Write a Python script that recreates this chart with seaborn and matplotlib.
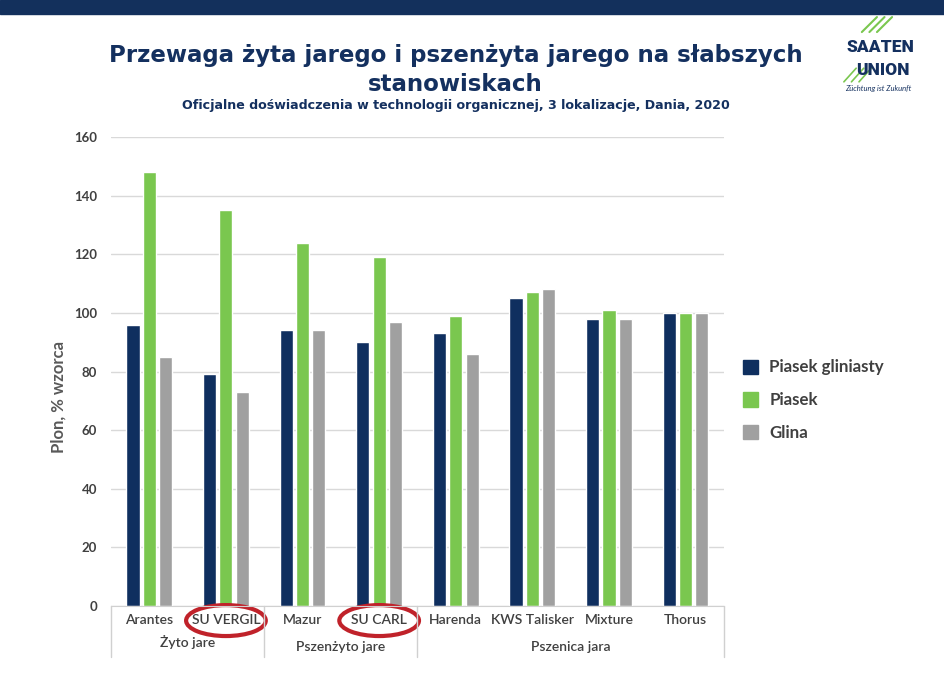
import numpy as np
import pandas as pd
import seaborn as sns
import matplotlib.pyplot as plt
from matplotlib.patches import Rectangle, Ellipse
from matplotlib.lines import Line2D

# dane
odmiany = ["Arantes", "SU VERGIL", "Mazur", "SU CARL", "Harenda", "KWS Talisker", "Mixture", "Thorus"]
grupy = ["Żyto jare", "Pszenżyto jare", "Pszenica jara"]
grupy_zakres = [(0, 1), (2, 3), (4, 7)]
piasek_gliniasty = [96, 79, 94, 90, 93, 105, 98, 100]
piasek = [148, 135, 124, 119, 99, 107, 101, 100]
glina = [85, 73, 94, 97, 86, 108, 98, 100]
gleby = ["Piasek gliniasty", "Piasek", "Glina"]
kolory = ["#0f2f5f", "#7ac74f", "#a0a0a0"]

NAVY = "#14305f"
TXT = "#404040"
TYTUL_FONT = ["DejaVu Sans"]

sns.set_style("white")
plt.rcParams['font.family'] = ['Lato', 'DejaVu Sans']

df = pd.DataFrame({
    "odmiana": odmiany * 3,
    "gleba": [g for g in gleby for _ in odmiany],
    "plon": piasek_gliniasty + piasek + glina,
})

fig = plt.figure(figsize=(9.45, 6.82), dpi=100)
ax = fig.add_axes([0.1175, 0.1114, 0.6485, 0.6877])

sns.barplot(data=df, x="odmiana", y="plon", hue="gleba", order=odmiany, hue_order=gleby,
            palette=kolory, width=0.64, gap=0.2, ax=ax, legend=False, saturation=1)

ax.set_ylim(0, 160)
ax.set_xlim(-0.5, len(odmiany) - 0.5)
ax.set_yticks(range(0, 161, 20))
ax.yaxis.grid(True, color="#d9d9d9", linewidth=1)
ax.set_axisbelow(True)
for s in ["top", "right", "left"]:
    ax.spines[s].set_visible(False)
ax.spines["bottom"].set_color("#d0d0d0")
ax.tick_params(axis="y", length=0, pad=10, labelsize=9.5, labelcolor=TXT)
ax.tick_params(axis="x", length=0, pad=6, labelsize=10, labelcolor=TXT)
for lab in ax.get_yticklabels():
    lab.set_fontweight("bold")
for lab in ax.get_xticklabels():
    lab.set_fontweight("semibold")
ax.set_xlabel("")
ax.set_ylabel("Plon, % wzorca", fontsize=12, fontweight="bold", color="#595959")
ax.yaxis.set_label_coords(-0.073, 0.446)

# dwupoziomowa oś kategorii
trans = ax.get_xaxis_transform()
for x in [-0.5, 1.5, 3.5, 7.5]:
    ax.plot([x, x], [0, -0.109], color="#d0d0d0", lw=1, transform=trans, clip_on=False)
for nazwa, (a, b), yy in zip(grupy, grupy_zakres, [-0.077, -0.088, -0.088]):
    ax.text((a + b) / 2, yy, nazwa, transform=trans, ha="center", va="center",
            fontsize=10, fontweight="semibold", color=TXT)

# czerwone obwódki
for i in [1, 3]:
    ax.add_patch(Ellipse((i, -0.031), 1.04, 0.066, transform=trans, fill=False,
                         edgecolor="#c0222a", lw=3, clip_on=False))

# legenda
uchwyty = [Rectangle((0, 0), 1, 1, color=k) for k in kolory]
leg = fig.legend(uchwyty, gleby, loc="center left", bbox_to_anchor=(0.77, 0.413),
                 frameon=False, fontsize=12.2, handlelength=0.9, handleheight=0.9,
                 labelspacing=1.0, handletextpad=0.65)
for t in leg.get_texts():
    t.set_color(TXT)
    t.set_fontweight("bold")

# nagłówek
fig.patches.append(Rectangle((0, 0.979), 1, 0.021, transform=fig.transFigure, color="#13305c"))
fig.text(0.482, 0.919, "Przewaga żyta jarego i pszenżyta jarego na słabszych",
         ha="center", va="center", fontsize=16.5, fontweight="bold", color=NAVY,
         family=TYTUL_FONT)
fig.text(0.482, 0.876, "stanowiskach", ha="center", va="center", fontsize=16.5,
         fontweight="bold", color=NAVY, family=TYTUL_FONT)
fig.text(0.482, 0.846, "Oficjalne doświadczenia w technologii organicznej, 3 lokalizacje, Dania, 2020",
         ha="center", va="center", fontsize=9.1, fontweight="bold", color=NAVY,
         family=TYTUL_FONT)

# logo
fig.text(0.932, 0.931, "SAATEN", ha="center", va="center", fontsize=12.5, fontweight="heavy",
         color=NAVY, family=["Roboto", "DejaVu Sans"])
fig.text(0.934, 0.898, "UNION", ha="center", va="center", fontsize=12.5, fontweight="heavy",
         color=NAVY, family=["Roboto", "DejaVu Sans"])
fig.text(0.929, 0.870, "Züchtung ist Zukunft", ha="center", va="center", fontsize=5.5,
         style="italic", color=NAVY)
for dx in [0, 0.008, 0.016]:
    fig.add_artist(Line2D([0.912 + dx, 0.928 + dx], [0.953, 0.975], color="#7ac74f", lw=1.5))
    fig.add_artist(Line2D([0.893 + dx, 0.906 + dx], [0.880, 0.900], color="#7ac74f", lw=1.2))

fig.savefig("out.png", dpi=100)
